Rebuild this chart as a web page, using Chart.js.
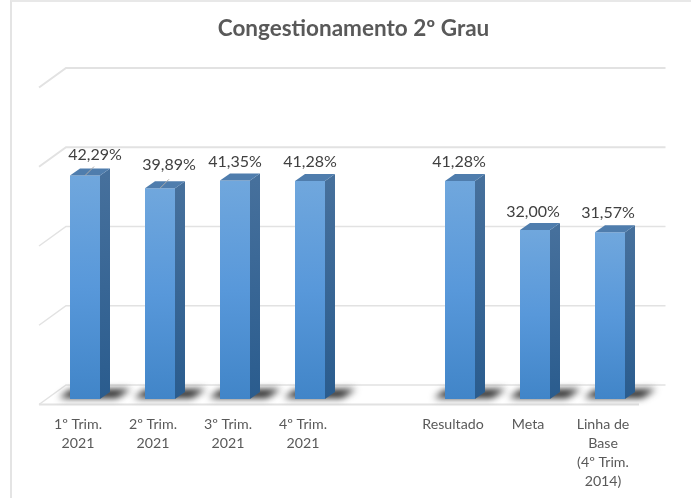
<!DOCTYPE html>
<html>
<head>
<meta charset="utf-8">
<title>Congestionamento 2º Grau</title>
<script src="https://cdn.jsdelivr.net/npm/chart.js@4"></script>
<style>
    html, body { margin: 0; padding: 0; background: #fff; overflow: hidden; }
    #frame { position: absolute; left: 10px; top: 0; width: 681px; height: 498px; box-sizing: border-box;
             border-left: 2px solid #e4e4e4; border-top: 2px solid #e8e8e8; }
    #myChart { position: absolute; left: 0; top: 0; filter: blur(0.4px); }
</style>
</head>
<body>
<div id="frame"></div>
<canvas id="myChart" width="691" height="498"></canvas>
<script>
// data, the empty category is the gap before "Resultado"
var categories = [
    ["1º Trim.", "2021"],
    ["2º Trim.", "2021"],
    ["3º Trim.", "2021"],
    ["4º Trim.", "2021"],
    "",
    "Resultado",
    "Meta",
    ["Linha de", "Base", "(4º Trim.", "2014)"]
];
var seriesValues = [42.29, 39.89, 41.35, 41.28, null, 41.28, 32.00, 31.57];
var axisTicks = [0, 15, 30, 45, 60];

var gridColor = '#e2e2e2';

// the 3d look: bars stand on a plane, the wall is behind and the floor edge in front
var threeD = {
    id: 'threeD',
    beforeDatasetsDraw: function (chart) {
        var c = chart.ctx, a = chart.chartArea, y = chart.scales.y;
        c.save();
        c.strokeStyle = gridColor;
        axisTicks.forEach(function (t) {
            var py = y.getPixelForValue(t);
            c.lineWidth = (t == 60 || t == 45) ? 2 : 1.5;
            c.beginPath();
            c.moveTo(a.left - 8.5, py + 5.5);
            c.lineTo(a.left + 18.5, py - 14);
            c.lineTo(a.right + 18, py - 14);
            c.stroke();
        });
        // front edge of the floor
        var base = y.getPixelForValue(0);
        c.lineWidth = 2;
        c.beginPath();
        c.moveTo(a.left - 8.5, base + 5.5);
        c.lineTo(a.right - 8.5, base + 5.5);
        c.stroke();

        // shadows on the floor
        c.filter = 'blur(3.5px)';
        c.fillStyle = '#222';
        chart.getDatasetMeta(0).data.forEach(function (bar, i) {
            if (seriesValues[i] === null) return;
            var l = bar.x - 15, r = bar.x + 15;
            c.beginPath();
            c.moveTo(l - 11, base - 1);
            c.lineTo(l, base - 9);
            c.lineTo(r + 31, base - 10);
            c.lineTo(r + 17, base - 1);
            c.closePath();
            c.fill();
        });
        c.restore();
    },
    afterDatasetsDraw: function (chart) {
        var c = chart.ctx, y = chart.scales.y;
        var base = y.getPixelForValue(0);
        var shiftX = [10, 9, 0, 0, 0, -1, -2, -2];
        var shiftY = [21, 23, 19, 19, 0, 19, 18, 19];
        c.save();
        chart.getDatasetMeta(0).data.forEach(function (bar, i) {
            if (seriesValues[i] === null) return;
            var l = bar.x - 15, r = bar.x + 15, top = bar.y;

            // side face
            var side = c.createLinearGradient(0, top, 0, base);
            side.addColorStop(0, '#46709c');
            side.addColorStop(1, '#2a5c8e');
            c.fillStyle = side;
            c.beginPath();
            c.moveTo(r, top);
            c.lineTo(r + 10, top - 7);
            c.lineTo(r + 10, base - 7);
            c.lineTo(r, base);
            c.closePath();
            c.fill();

            // top face
            c.fillStyle = '#4f7dad';
            c.beginPath();
            c.moveTo(l, top);
            c.lineTo(l + 10, top - 7);
            c.lineTo(r + 10, top - 7);
            c.lineTo(r, top);
            c.closePath();
            c.fill();

            // the first two labels were dragged away and keep a leader line
            if (i < 2) {
                c.strokeStyle = '#a9a9a9';
                c.lineWidth = 1;
                c.beginPath();
                c.moveTo(bar.x, top);
                c.lineTo(bar.x + 9, top - 9);
                c.stroke();
            }

            c.fillStyle = '#404040';
            c.font = '16px Lato';
            c.textAlign = 'center';
            c.textBaseline = 'middle';
            c.fillText(seriesValues[i].toFixed(2).replace('.', ',') + '%', bar.x + shiftX[i], top - shiftY[i]);
        });
        c.restore();
    },
    afterLayout: function (chart) {
        // title sits a bit right of the plot centre
        chart.titleBlock.left = 16;
        chart.titleBlock.right = 691;
    }
};

var ctx = document.getElementById('myChart').getContext('2d');
var chart = new Chart(ctx, {
    type: 'bar',
    data: {
        labels: categories,
        datasets: [{
            data: seriesValues,
            barPercentage: 0.4,
            categoryPercentage: 1,
            backgroundColor: function (context) {
                var el = context.chart.getDatasetMeta(0).data[context.dataIndex];
                var area = context.chart.chartArea;
                if (!area || !el || seriesValues[context.dataIndex] === null) return '#5b9bd5';
                var g = context.chart.ctx.createLinearGradient(0, context.chart.scales.y.getPixelForValue(seriesValues[context.dataIndex]), 0, area.bottom);
                g.addColorStop(0, '#70a7dd');
                g.addColorStop(0.5, '#5898da');
                g.addColorStop(1, '#4185c8');
                return g;
            }
        }]
    },
    plugins: [threeD],
    options: {
        responsive: false,
        animation: false,
        layout: { padding: { left: 47.5, right: 43.5, top: 0, bottom: 0 } },
        plugins: {
            legend: { display: false },
            tooltip: { enabled: false },
            title: {
                display: true,
                text: 'Congestionamento 2º Grau',
                color: '#595959',
                font: { family: 'Lato', size: 22.5, weight: 'bold', lineHeight: 1.2 },
                padding: { top: 15, bottom: 40 }
            }
        },
        scales: {
            x: {
                grid: { display: false },
                border: { display: false },
                afterFit: function (scale) { scale.height = 99; },
                ticks: {
                    color: '#595959',
                    font: { family: 'Lato', size: 14.2, lineHeight: 1.34 },
                    maxRotation: 0,
                    autoSkip: false,
                    labelOffset: -7,
                    padding: 8
                }
            },
            y: {
                display: false,
                min: 0,
                max: 60,
                afterBuildTicks: function (scale) {
                    scale.ticks = axisTicks.map(function (t) { return { value: t }; });
                }
            }
        }
    }
});
</script>
</body>
</html>
